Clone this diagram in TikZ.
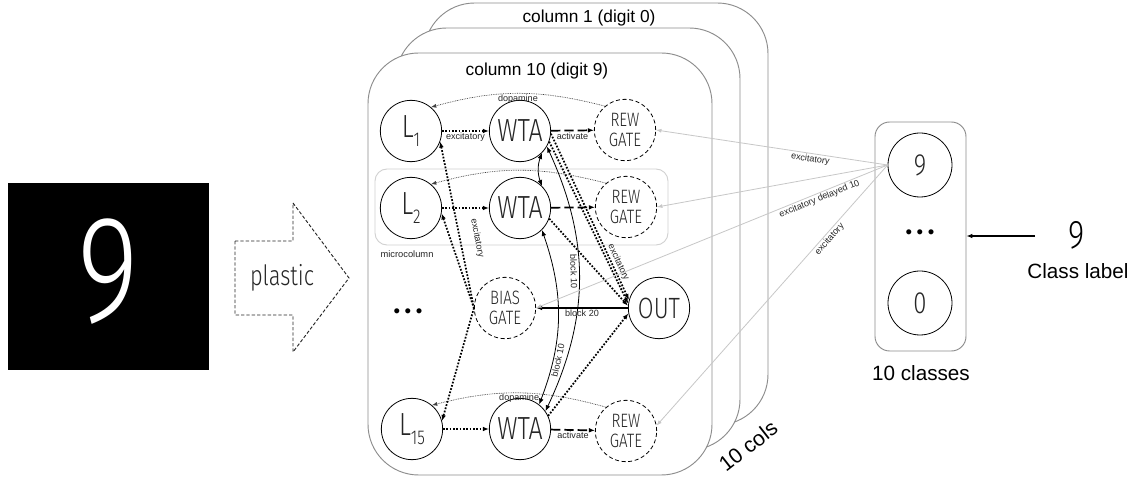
\documentclass[tikz,border=0pt]{standalone}
\usepackage{fontspec}
\setmainfont{Liberation Sans}
\IfFontExistsTF{Fira Sans Light}{\newfontfamily\thinf{Fira Sans Light}}{\newfontfamily\thinf{Liberation Sans}}
\usepackage{graphicx}
\usetikzlibrary{arrows.meta}

\newcommand{\nar}[1]{\scalebox{0.78}[1]{\thinf #1}}
\newcommand{\lsub}[1]{\nar{L\raisebox{-0.3em}{\fontsize{15}{15}\selectfont #1}}}
\newcommand{\tinylbl}{\fontsize{6.8}{7}\selectfont}

\begin{document}
\begin{tikzpicture}[x=0.75pt, y=-0.75pt,
	colbox/.style={draw=black!45, fill=white, line width=0.7pt, rounded corners=38pt},
	microbox/.style={draw=black!18, line width=0.7pt, rounded corners=9pt},
	neuron/.style={circle, draw, line width=0.6pt, minimum size=46pt, inner sep=0pt, text=black!85, font=\fontsize{24}{24}\selectfont},
	gate/.style={neuron, dash pattern=on 3pt off 2pt, align=center, font=\fontsize{14.5}{15.5}\selectfont},
	arr/.style={-{Latex[length=4.5pt,width=3.5pt]}},
	rarr/.style={{Latex[length=4.5pt,width=3.5pt]}-},
	exc/.style={line width=1.3pt, dash pattern=on 1.3pt off 1.2pt},
	act/.style={arr, line width=1.3pt, dash pattern=on 7pt off 3pt},
	dopa/.style={-{Latex[length=4pt,width=3pt]}, line width=0.5pt, black!75, dash pattern=on 0.6pt off 0.7pt},
	block/.style={{Latex[length=4.5pt,width=3.5pt]}-{Latex[length=4.5pt,width=3.5pt]}, line width=0.6pt},
	clsline/.style={{Latex[length=4pt,width=3pt]}-, draw=black!22, line width=0.6pt},
	lbl/.style={font=\tinylbl, inner sep=1pt, text=black!85}]

	\useasboundingbox (0,0) rectangle (1140,477);

	% input image
	\node[fill=black, minimum width=150.75pt, minimum height=140.25pt, inner sep=0pt] (img) at (108.5,276.5) {};
	\node[text=white, font=\fontsize{114}{114}\selectfont, inner sep=0pt] (imgdigit) at (108,272) {\nar{9}};

	% plastic arrow
	\draw[dash pattern=on 2.5pt off 1.5pt, line width=0.7pt, black!85] (235,241) -- (293,241) -- (293,203) -- (349,278) -- (293,352) -- (293,315) -- (235,315) -- cycle;
	\node[font=\fontsize{21}{21}\selectfont, text=black!85] (plastic) at (282,278) {\nar{plastic}};

	% columns
	\draw[colbox] (424,3) rectangle (768,425);
	\draw[colbox] (396,28) rectangle (740,450);
	\draw[colbox] (368,53) rectangle (712,475);
	\node[font=\fontsize{13}{13}\selectfont] (col1) at (589,18) {column 1 (digit 0)};
	\node[font=\fontsize{13}{13}\selectfont] (col10) at (537,71) {column 10 (digit 9)};
	\node[font=\fontsize{16}{16}\selectfont, rotate=38] (ncols) at (748,446) {10 cols};

	\draw[microbox] (375,169) rectangle (668,245);
	\node[font=\fontsize{7}{7}\selectfont, text=black!85] (micro) at (407,254) {microcolumn};

	% neurons
	\node[neuron] (l1) at (411,131) {\lsub{1}};
	\node[neuron] (wta1) at (520,131) {\nar{WTA}};
	\node[gate] (rew1) at (625,130) {\nar{REW}\\\nar{GATE}};

	\node[neuron] (l2) at (411,208) {\lsub{2}};
	\node[neuron] (wta2) at (520,208) {\nar{WTA}};
	\node[gate] (rew2) at (626,207) {\nar{REW}\\\nar{GATE}};

	\node[font=\fontsize{14}{14}\selectfont] (ldots) at (408,313) {\textbullet\hspace{3.5pt}\textbullet\hspace{3.5pt}\textbullet};
	\node[gate] (bias) at (505,308) {\nar{BIAS}\\\nar{GATE}};
	\node[neuron, font=\fontsize{22}{22}\selectfont] (out) at (659,308) {\nar{OUT}};

	\node[neuron] (l15) at (412,429) {\lsub{15}};
	\node[neuron] (wta15) at (520,429) {\nar{WTA}};
	\node[gate] (rew15) at (626,431) {\nar{REW}\\\nar{GATE}};

	% dopamine
	\draw[dopa] (rew1.130) to[bend right=15] node[lbl, below, inner sep=0.5pt] (dop1) {dopamine} (l1.50);
	\draw[dopa] (rew2.130) to[bend right=15] (l2.50);
	\draw[dopa] (rew15.130) to[bend right=15] node[lbl, below, inner sep=0.5pt] (dop15) {dopamine} (l15.50);

	% rows
	\draw[exc, arr] (l1) -- node[lbl, below] {excitatory} (wta1);
	\draw[exc, arr] (l2) -- (wta2);
	\draw[exc, arr] (l15) -- (wta15);
	\draw[act] (wta1) -- node[lbl, below] {activate} (rew1);
	\draw[act] (wta2) -- (rew2);
	\draw[act] (wta15) -- node[lbl, below] {activate} (rew15);

	% bias gate to inputs
	\draw[exc, rarr] (l1.-20) -- node[lbl, sloped, pos=0.6, above=8pt] {excitatory} (bias.west);
	\draw[exc, rarr] (l2.-10) -- (bias.west);
	\draw[exc, arr] (bias.west) -- (l15.15);

	% wta to out
	\draw[exc, arr] (wta1.-5) -- node[lbl, sloped, pos=0.79, above] {excitatory} (out.165);
	\draw[exc, arr] (wta1.-20) -- (out.172);
	\draw[exc, arr] (wta2.-20) -- (out.176);
	\draw[exc, arr] (wta15.25) -- (out.190);
	\draw[line width=0.9pt, arr] (out.west) -- node[lbl, below] {block 20} (bias.east);

	% lateral block
	\draw[block] (wta1.-45) to[bend right=20] (wta2.45);
	\draw[block] (wta1.-30) to[bend left=25] node[lbl, sloped, pos=0.47, below] {block 10} (wta15.35);
	\draw[block] (wta2.-45) to[bend left=20] node[lbl, sloped, pos=0.75, below] {block 10} (wta15.52);

	% classes
	\node[draw=black!45, line width=0.7pt, rounded corners=11pt, minimum width=68.25pt, minimum height=171.75pt] (cbox) at (920.5,236.5) {};
	\node[neuron, minimum size=48pt, font=\fontsize{23}{23}\selectfont] (c9) at (920,165) {\nar{9}};
	\node[font=\fontsize{14}{14}\selectfont] (cdots) at (920,234) {\textbullet\hspace{3.5pt}\textbullet\hspace{3.5pt}\textbullet};
	\node[neuron, minimum size=48pt, font=\fontsize{23}{23}\selectfont] (c0) at (920,303) {\nar{0}};
	\node[font=\fontsize{15.5}{15.5}\selectfont] (ncls) at (921,373) {10 classes};
	\node[font=\fontsize{30}{30}\selectfont] (lbl9) at (1077,235) {\nar{9}};
	\node[font=\fontsize{15.5}{15.5}\selectfont] (clabel) at (1078,271) {Class label};
	\coordinate (clsin) at (1035,236);
	\draw[line width=0.8pt, arr] (clsin) -- (cbox.east |- clsin);

	% class to column
	\draw[clsline] (rew1.east) -- node[lbl, sloped, pos=0.67, below] {excitatory} (c9.west);
	\draw[clsline] (rew2.east) -- (c9.west);
	\draw[clsline] (bias.east) -- node[lbl, sloped, pos=0.8, below] {excitatory delayed 10} (c9.west);
	\draw[clsline] (rew15.10) -- node[lbl, sloped, pos=0.73, below] {excitatory} (c9.west);
\end{tikzpicture}
\end{document}
